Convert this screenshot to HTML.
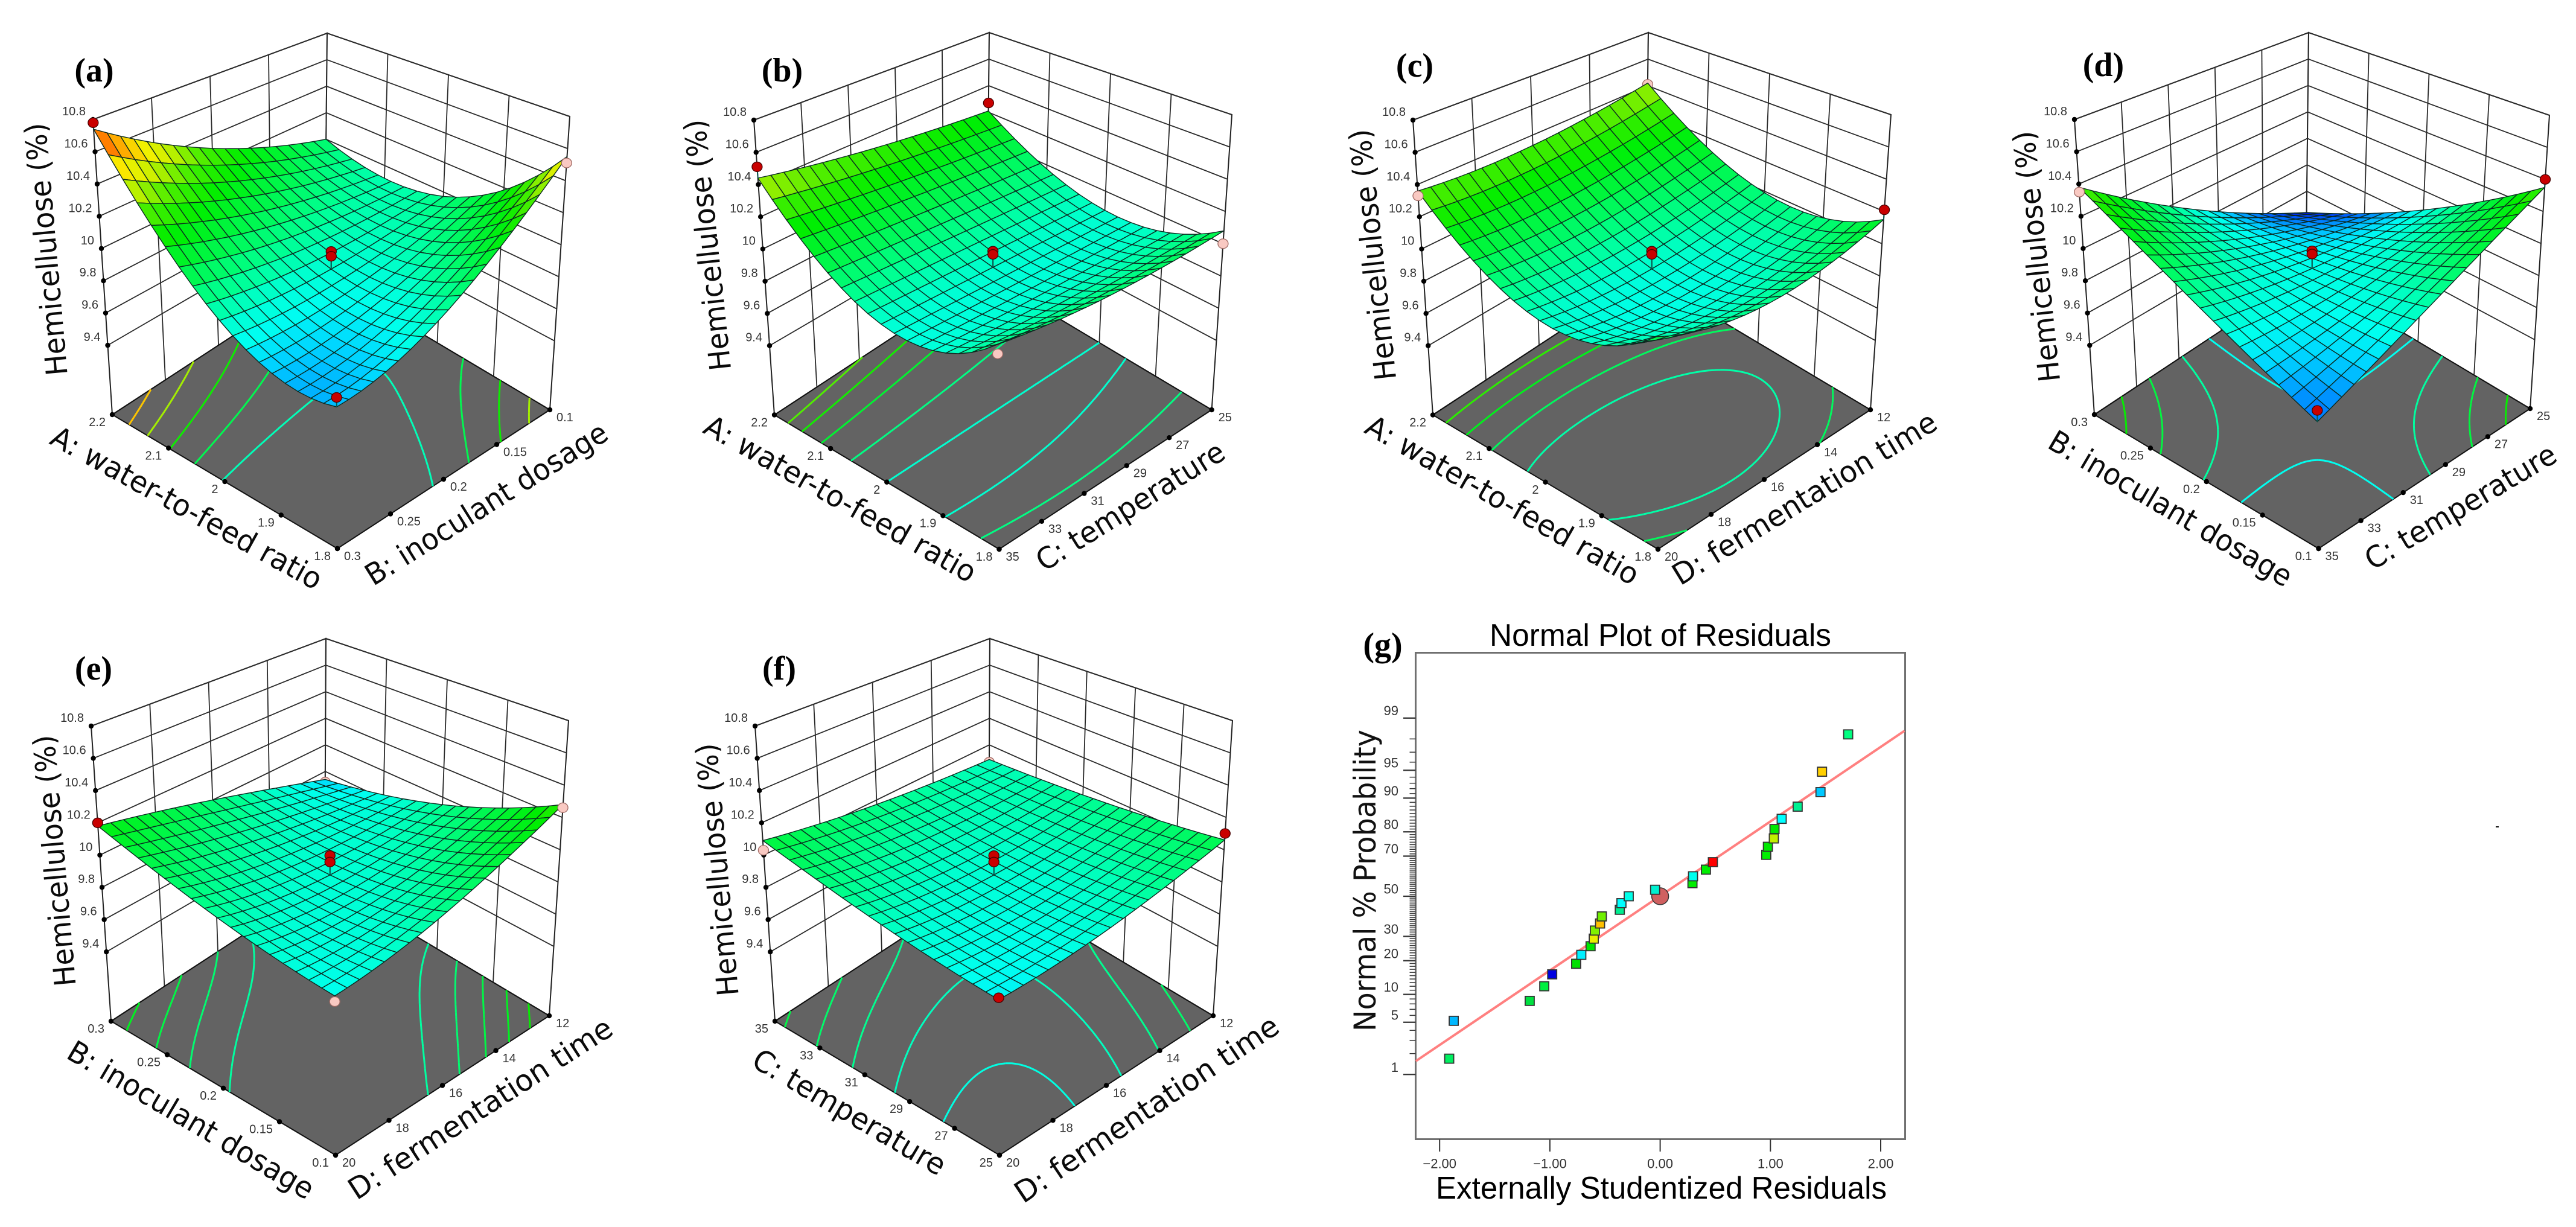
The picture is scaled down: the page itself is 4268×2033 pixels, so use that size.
<!DOCTYPE html>
<html lang="en">
<head>
<meta charset="utf-8">
<title>Hemicellulose response surfaces and normal plot of residuals</title>
<style>
html,body{margin:0;padding:0;background:#fff;}
#figure{position:absolute;left:0;top:0;display:block;}
.ax3d{font-family:"DejaVu Sans",sans-serif;font-size:49px;fill:#0a0a0a;text-anchor:middle;dominant-baseline:central;}
.tag{font-family:"Liberation Serif",serif;font-weight:bold;font-size:56px;fill:#000;text-anchor:middle;}
.g-title{font-family:"Liberation Sans",sans-serif;font-size:52px;fill:#000;}
.g-ytitle{font-family:"DejaVu Sans",sans-serif;font-size:50px;fill:#111;}
</style>
</head>
<body>
<svg id="figure" xmlns="http://www.w3.org/2000/svg" width="4268" height="2033" viewBox="0 0 4268 2033">
<rect width="4268" height="2033" fill="#fff"/>
<g id="panel-a"></g>
<g id="panel-b"></g>
<g id="panel-c"></g>
<g id="panel-d"></g>
<g id="panel-e"></g>
<g id="panel-f"></g>
<g id="panel-g"></g>

<text class="tag" x="156" y="135">(a)</text>
<text class="tag" x="1296" y="135">(b)</text>
<text class="tag" x="2344" y="127">(c)</text>
<text class="tag" x="3485" y="126">(d)</text>
<text class="tag" x="155" y="1126">(e)</text>
<text class="tag" x="1291" y="1126">(f)</text>
<text class="tag" x="2291" y="1087">(g)</text>

<text class="ax3d" transform="translate(77 413) rotate(-95)" textLength="420" lengthAdjust="spacingAndGlyphs">Hemicellulose (%)</text>
<text class="ax3d" transform="translate(309 842) rotate(28.9)" textLength="505" lengthAdjust="spacingAndGlyphs">A: water-to-feed ratio</text>
<text class="ax3d" transform="translate(806 835) rotate(-32)" textLength="463" lengthAdjust="spacingAndGlyphs">B: inoculant dosage</text>

<text class="ax3d" transform="translate(1173 406) rotate(-96)" textLength="418" lengthAdjust="spacingAndGlyphs">Hemicellulose (%)</text>
<text class="ax3d" transform="translate(1392 827) rotate(29.5)" textLength="509" lengthAdjust="spacingAndGlyphs">A: water-to-feed ratio</text>
<text class="ax3d" transform="translate(1873 839) rotate(-32)" textLength="358" lengthAdjust="spacingAndGlyphs">C: temperature</text>

<text class="ax3d" transform="translate(2275 422) rotate(-96)" textLength="418" lengthAdjust="spacingAndGlyphs">Hemicellulose (%)</text>
<text class="ax3d" transform="translate(2489 829) rotate(29.8)" textLength="513" lengthAdjust="spacingAndGlyphs">A: water-to-feed ratio</text>
<text class="ax3d" transform="translate(2990 826) rotate(-31.4)" textLength="503" lengthAdjust="spacingAndGlyphs">D: fermentation time</text>

<text class="ax3d" transform="translate(3375 425) rotate(-96)" textLength="418" lengthAdjust="spacingAndGlyphs">Hemicellulose (%)</text>
<text class="ax3d" transform="translate(3596 843) rotate(30.5)" textLength="459" lengthAdjust="spacingAndGlyphs">B: inoculant dosage</text>
<text class="ax3d" transform="translate(4077 840) rotate(-30.6)" textLength="359" lengthAdjust="spacingAndGlyphs">C: temperature</text>

<text class="ax3d" transform="translate(91 1426) rotate(-95)" textLength="418" lengthAdjust="spacingAndGlyphs">Hemicellulose (%)</text>
<text class="ax3d" transform="translate(316 1856) rotate(30.6)" textLength="465" lengthAdjust="spacingAndGlyphs">B: inoculant dosage</text>
<text class="ax3d" transform="translate(796 1837) rotate(-32.9)" textLength="510" lengthAdjust="spacingAndGlyphs">D: fermentation time</text>

<text class="ax3d" transform="translate(1189 1441) rotate(-95)" textLength="420" lengthAdjust="spacingAndGlyphs">Hemicellulose (%)</text>
<text class="ax3d" transform="translate(1407 1843) rotate(30.5)" textLength="362" lengthAdjust="spacingAndGlyphs">C: temperature</text>
<text class="ax3d" transform="translate(1900 1838) rotate(-33.8)" textLength="515" lengthAdjust="spacingAndGlyphs">D: fermentation time</text>

<text class="g-title" x="2468" y="1070" textLength="566" lengthAdjust="spacingAndGlyphs">Normal Plot of Residuals</text>
<text class="g-ytitle" transform="translate(2279 1709) rotate(-90)" textLength="500" lengthAdjust="spacingAndGlyphs">Normal % Probability</text>
<text class="g-title" x="2379" y="1986" textLength="747" lengthAdjust="spacingAndGlyphs">Externally Studentized Residuals</text>
<rect x="4135" y="1369" width="5" height="2" fill="#111"/>
</svg>

<script>
/* ---------- Response-surface values ----------
   Heights at low / mid / high of each factor: row = left-running factor, column = right-running factor. */
const surfaceA = [[9.72, 9.94, 10.55], [9.89, 9.86, 9.97], [10.74, 10.31, 10.00]];
const surfaceB = [[10.05, 10.02, 10.08], [9.87, 9.87, 9.87], [10.44, 10.31, 10.21]];
const surfaceC = [[10.09, 9.975, 10.15], [9.89, 9.86, 9.99], [10.36, 10.33, 10.42]];
const surfaceD = [[9.64, 9.95, 10.35], [9.96, 9.86, 9.87], [10.38, 9.89, 9.44]];
const surfaceE = [[9.81, 9.96, 10.28], [9.94, 9.86, 9.95], [10.18, 10.00, 9.74]];
const surfaceF = [[9.79, 9.87, 10.06], [9.90, 9.86, 9.96], [10.09, 9.97, 9.89]];

/* contour levels on each floor */
const contoursA = [9.90, 10.05, 10.22, 10.40, 10.57];
const contoursB = [9.87, 9.97, 10.11, 10.23, 10.33];
const contoursC = [9.92, 10.03, 10.15, 10.27];
const contoursD = [9.85, 9.97, 10.12, 10.25];
const contoursE = [9.93, 10.00, 10.07, 10.14, 10.21];
const contoursF = [9.835, 9.89, 9.95, 10.01, 10.07];

/* design points: [left-factor fraction, right-factor fraction, response] */
const designA = [[1, 0, 10.78], [0, 1, 10.51], [0, 0, 9.77], [0.5, 0.5, 9.97], [0.5, 0.5, 9.94]];
const designB = [[1, 0, 10.51], [1, 1, 10.27], [0, 1, 10.00], [0, 0, 10.00], [0.5, 0.5, 9.97], [0.5, 0.5, 9.95]];
const designC = [[1, 0, 10.33], [1, 1, 10.41], [0, 1, 10.21], [0.5, 0.5, 9.97], [0.5, 0.5, 9.95]];
const designD = [[1, 0, 10.35], [0, 1, 10.40], [0, 0, 9.70], [0.5, 0.5, 9.97], [0.5, 0.5, 9.95]];
const designE = [[1, 0, 10.20], [0, 1, 10.26], [1, 1, 9.72], [0, 0, 9.78], [0.5, 0.5, 9.98], [0.5, 0.5, 9.94]];
const designF = [[1, 0, 10.03], [0, 1, 10.10], [1, 1, 9.87], [0, 0, 9.80], [0.5, 0.5, 9.98], [0.5, 0.5, 9.94]];

/* tick labels */
const zTickValues = [10.8, 10.6, 10.4, 10.2, 10, 9.8, 9.6, 9.4];
const ticksWater = ['1.8', '1.9', '2', '2.1', '2.2'];
const ticksDosageUp = ['0.1', '0.15', '0.2', '0.25', '0.3'];
const ticksDosageDown = ['0.3', '0.25', '0.2', '0.15', '0.1'];
const ticksTempDown = ['35', '33', '31', '29', '27', '25'];
const ticksTempUp = ['25', '27', '29', '31', '33', '35'];
const ticksTimeDown = ['20', '18', '16', '14', '12'];

/* colour scale (response → colour) */
const scaleValues = [9.40, 9.55, 9.68, 9.75, 9.81, 9.87, 9.95, 10.05, 10.20, 10.33, 10.43, 10.52, 10.62, 10.75];
const scaleColors = ['#0000d0', '#0050ff', '#00a0ff', '#00d8ff', '#00fff0', '#00ffd0', '#00ff90', '#00f850', '#00ee00', '#50ee00', '#c8f000', '#f8f000', '#ff9a00', '#ff2800'];

/* ---------- Normal plot data ---------- */
const residuals = [-1.913, -1.872, -1.183, -1.051, -0.979, -0.762, -0.715, -0.631, -0.602, -0.592, -0.545, -0.529, -0.366, -0.351, -0.285, -0.046, 0.293, 0.298, 0.415, 0.478, 0.962, 0.977, 1.031, 1.037, 1.102, 1.247, 1.454, 1.468, 1.705];
const probabilities = [1.7, 5.2, 8.6, 12, 15.4, 18.9, 22.2, 25.7, 29, 32.7, 36.1, 39.6, 43, 46.4, 50, 53.4, 56.8, 60.3, 63.6, 67.2, 70.6, 74.1, 77.5, 81, 84.4, 87.9, 91.3, 94.8, 98.27];
const residualColors = ['#00f060', '#00b8ff', '#00e040', '#00f040', '#0000e0', '#00e000', '#00f0ff', '#00e800', '#e8f000', '#80f000', '#ffc000', '#70f000', '#00ee90', '#00ffff', '#00ffe8', '#00f0d0', '#00ee00', '#00ffee', '#00ee00', '#ff0000', '#00f000', '#00e800', '#c0f000', '#00e800', '#00ffff', '#00f090', '#00c8ff', '#ffd000', '#00ff80'];
const fitResiduals = [-2.216, 2.216];
const fitProbabilities = [1.57, 98.46];
const xTickValues = [-2, -1, 0, 1, 2];
const xTickLabels = ['\u22122.00', '\u22121.00', '0.00', '1.00', '2.00'];
const probTickValues = [1, 5, 10, 20, 30, 50, 70, 80, 90, 95, 99];
const meanResidual = 0;
const meanProbability = 50;

/* ---------- Layout (pixels) ---------- */
const Z_FLOOR = 8.97;
const Z_TOP = 10.8;
const MESH = 18;
const SVGNS = 'http://www.w3.org/2000/svg';

const panels = [
  {id: 'a', colorShift: 0, surface: surfaceA, levels: contoursA, design: designA, uTicks: ticksWater, vTicks: ticksDosageDown,
   F: [559, 909], L: [186, 687], R: [911, 679], LT: [154, 198], RT: [944, 193], BT: [542, 55]},
  {id: 'b', colorShift: 0, surface: surfaceB, levels: contoursB, design: designB, uTicks: ticksWater, vTicks: ticksTempDown,
   F: [1655.5, 910], L: [1283, 687.5], R: [2007.6, 679], LT: [1249, 199], RT: [2041, 190], BT: [1639, 54]},
  {id: 'c', colorShift: 0, surface: surfaceC, levels: contoursC, design: designC, uTicks: ticksWater, vTicks: ticksTimeDown,
   F: [2747, 910], L: [2374, 687.5], R: [3099, 679], LT: [2341, 199], RT: [3133, 190], BT: [2731, 54]},
  {id: 'd', colorShift: -0.04, surface: surfaceD, levels: contoursD, design: designD, uTicks: ticksDosageUp, vTicks: ticksTempDown,
   F: [3841.5, 909], L: [3470, 687], R: [4192, 677], LT: [3437, 198], RT: [4224, 191], BT: [3825, 54]},
  {id: 'e', colorShift: 0, surface: surfaceE, levels: contoursE, design: designE, uTicks: ticksDosageUp, vTicks: ticksTimeDown,
   F: [556, 1914], L: [184, 1692], R: [910, 1683], LT: [151, 1203], RT: [942, 1194], BT: [540, 1058]},
  {id: 'f', colorShift: 0, surface: surfaceF, levels: contoursF, design: designF, uTicks: ticksTempUp, vTicks: ticksTimeDown,
   F: [1656, 1914], L: [1284, 1692], R: [2010, 1683], LT: [1251, 1203], RT: [2042, 1194], BT: [1640, 1058]}
];

function node(tag, attrs, parent) {
  const n = document.createElementNS(SVGNS, tag);
  for (const k in attrs) n.setAttribute(k, attrs[k]);
  parent.appendChild(n);
  return n;
}
function hexToRgb(h) {
  return [parseInt(h.slice(1, 3), 16), parseInt(h.slice(3, 5), 16), parseInt(h.slice(5, 7), 16)];
}
function colorAt(z) {
  if (z <= scaleValues[0]) return scaleColors[0];
  for (let i = 1; i < scaleValues.length; i++) {
    if (z <= scaleValues[i]) {
      const f = (z - scaleValues[i - 1]) / (scaleValues[i] - scaleValues[i - 1]);
      const a = hexToRgb(scaleColors[i - 1]);
      const b = hexToRgb(scaleColors[i]);
      return 'rgb(' + Math.round(a[0] + (b[0] - a[0]) * f) + ',' + Math.round(a[1] + (b[1] - a[1]) * f) + ',' + Math.round(a[2] + (b[2] - a[2]) * f) + ')';
    }
  }
  return scaleColors[scaleColors.length - 1];
}
function basis(s) {
  return [2 * (s - 0.5) * (s - 1), -4 * s * (s - 1), 2 * s * (s - 0.5)];
}
function heightAt(h, u, v) {
  const bu = basis(u);
  const bv = basis(v);
  let z = 0;
  for (let i = 0; i < 3; i++) for (let j = 0; j < 3; j++) z += bu[i] * bv[j] * h[i][j];
  return z;
}
function projector(p) {
  const FT = [p.LT[0] + p.RT[0] - p.BT[0], p.LT[1] + p.RT[1] - p.BT[1]];
  return function (u, v, z) {
    const t = (z - Z_FLOOR) / (Z_TOP - Z_FLOOR);
    const out = [0, 0];
    for (let k = 0; k < 2; k++) {
      const floor = p.F[k] + u * (p.L[k] - p.F[k]) + v * (p.R[k] - p.F[k]);
      const top = FT[k] + u * (p.LT[k] - FT[k]) + v * (p.RT[k] - FT[k]);
      out[k] = floor + (top - floor) * t;
    }
    return out;
  };
}
function pts(list) {
  return list.map(function (q) { return q[0].toFixed(1) + ',' + q[1].toFixed(1); }).join(' ');
}
function contourPath(h, level, P) {
  const N = 70;
  let d = '';
  function cross(u1, v1, z1, u2, v2, z2, out) {
    if ((z1 < level) !== (z2 < level)) {
      const f = (level - z1) / (z2 - z1);
      out.push(P(u1 + (u2 - u1) * f, v1 + (v2 - v1) * f, Z_FLOOR));
    }
  }
  for (let i = 0; i < N; i++) {
    for (let j = 0; j < N; j++) {
      const u0 = i / N, u1 = (i + 1) / N, v0 = j / N, v1 = (j + 1) / N;
      const a = heightAt(h, u0, v0), b = heightAt(h, u1, v0), c = heightAt(h, u1, v1), e = heightAt(h, u0, v1);
      const hit = [];
      cross(u0, v0, a, u1, v0, b, hit);
      cross(u1, v0, b, u1, v1, c, hit);
      cross(u1, v1, c, u0, v1, e, hit);
      cross(u0, v1, e, u0, v0, a, hit);
      for (let k = 0; k + 1 < hit.length; k += 2) {
        d += 'M' + hit[k][0].toFixed(1) + ' ' + hit[k][1].toFixed(1) + 'L' + hit[k + 1][0].toFixed(1) + ' ' + hit[k + 1][1].toFixed(1);
      }
    }
  }
  return d;
}

function drawPanel(p) {
  const g = document.getElementById('panel-' + p.id);
  const P = projector(p);
  const lineStyle = {stroke: '#2a2a2a', 'stroke-width': 1.8, fill: 'none'};

  function seg(a, b, name) {
    const l = node('line', Object.assign({x1: a[0], y1: a[1], x2: b[0], y2: b[1]}, lineStyle), g);
    
    
    return l;
  }

  /* back walls */
  const leftWall = node('polygon', {points: pts([P(1, 0, Z_FLOOR), P(1, 1, Z_FLOOR), P(1, 1, Z_TOP), P(1, 0, Z_TOP)]), fill: '#fff', stroke: '#222', 'stroke-width': 2}, g);
  
  
  const rightWall = node('polygon', {points: pts([P(0, 1, Z_FLOOR), P(1, 1, Z_FLOOR), P(1, 1, Z_TOP), P(0, 1, Z_TOP)]), fill: '#fff', stroke: '#222', 'stroke-width': 2}, g);
  
  

  zTickValues.forEach(function (z) {
    seg(P(1, 0, z), P(1, 1, z), 'left-wall-gridline');
    seg(P(0, 1, z), P(1, 1, z), 'right-wall-gridline');
  });
  for (let i = 1; i < p.vTicks.length - 1; i++) {
    const v = i / (p.vTicks.length - 1);
    seg(P(1, v, Z_FLOOR), P(1, v, Z_TOP), 'left-wall-gridline');
  }
  for (let i = 1; i < p.uTicks.length - 1; i++) {
    const u = i / (p.uTicks.length - 1);
    seg(P(u, 1, Z_FLOOR), P(u, 1, Z_TOP), 'right-wall-gridline');
  }

  /* floor */
  const floor = node('polygon', {points: pts([P(0, 0, Z_FLOOR), P(1, 0, Z_FLOOR), P(1, 1, Z_FLOOR), P(0, 1, Z_FLOOR)]), fill: '#636363', stroke: '#111', 'stroke-width': 2}, g);
  
  

  /* contours */
  p.levels.forEach(function (level) {
    const c = node('path', {d: contourPath(p.surface, level, P), fill: 'none', stroke: colorAt(level + p.colorShift), 'stroke-width': 3}, g);
    
    
  });

  /* tick dots and labels */
  function label(q, text, anchor, dx, dy, name) {
    const t = node('text', {x: q[0] + dx, y: q[1] + dy, 'font-family': '"Liberation Sans",sans-serif', 'font-size': 20, fill: '#333', 'text-anchor': anchor, 'dominant-baseline': 'central'}, g);
    t.textContent = text;
    
    
  }
  function dot(q, name) {
    const c = node('circle', {cx: q[0], cy: q[1], r: 4.2, fill: '#000'}, g);
    
    
  }
  zTickValues.forEach(function (z) {
    const q = P(1, 0, z);
    dot(q, 'z-axis-tick');
    label(q, String(z), 'end', -12, -13, 'z-axis-tick-label');
  });
  p.uTicks.forEach(function (text, i) {
    const q = P(i / (p.uTicks.length - 1), 0, Z_FLOOR);
    dot(q, 'left-axis-tick');
    label(q, text, 'end', -11, 13, 'left-axis-tick-label');
  });
  p.vTicks.forEach(function (text, i) {
    const q = P(0, i / (p.vTicks.length - 1), Z_FLOOR);
    dot(q, 'right-axis-tick');
    label(q, text, 'start', 11, 13, 'right-axis-tick-label');
  });

  /* design points */
  function marker(pt) {
    const q = P(pt[0], pt[1], pt[2]);
    const above = pt[2] > heightAt(p.surface, pt[0], pt[1]);
    const e = node('ellipse', {cx: q[0], cy: q[1], rx: 8.5, ry: 8, fill: above ? '#c90000' : '#f9c9c2', stroke: above ? '#4a0000' : '#a06a64', 'stroke-width': 1.3}, g);
    
    
  }
  p.design.filter(function (d) { return d[0] === 1 && d[1] === 1; }).forEach(marker);

  /* surface mesh, far cells first */
  const cells = [];
  for (let i = MESH - 1; i >= 0; i--) {
    for (let j = MESH - 1; j >= 0; j--) cells.push([i, j]);
  }
  cells.sort(function (a, b) { return (b[0] + b[1]) - (a[0] + a[1]); });
  cells.forEach(function (cell) {
    const u0 = cell[0] / MESH, u1 = (cell[0] + 1) / MESH, v0 = cell[1] / MESH, v1 = (cell[1] + 1) / MESH;
    const z00 = heightAt(p.surface, u0, v0), z10 = heightAt(p.surface, u1, v0), z11 = heightAt(p.surface, u1, v1), z01 = heightAt(p.surface, u0, v1);
    const mean = (z00 + z10 + z11 + z01) / 4;
    const poly = node('polygon', {points: pts([P(u0, v0, z00), P(u1, v0, z10), P(u1, v1, z11), P(u0, v1, z01)]), fill: colorAt(mean + p.colorShift), stroke: '#0b2a20', 'stroke-width': 1.4, 'stroke-linejoin': 'round'}, g);
    
    
  });

  /* stems and remaining points */
  p.design.forEach(function (d) {
    if (d[0] === 1 && d[1] === 1) return;
    const s = heightAt(p.surface, d[0], d[1]);
    if (d[2] > s) {
      const a = P(d[0], d[1], s);
      const b = P(d[0], d[1], d[2]);
      const stem = node('line', {x1: a[0], y1: a[1], x2: b[0], y2: b[1], stroke: '#0b5a50', 'stroke-width': 2}, g);
      
      
    }
  });
  p.design.filter(function (d) { return !(d[0] === 1 && d[1] === 1); }).forEach(marker);
}

/* ---------- Normal plot ---------- */
function probit(p) {
  const q = p < 0.5 ? p : 1 - p;
  const t = Math.sqrt(-2 * Math.log(q));
  const z = t - (2.515517 + 0.802853 * t + 0.010328 * t * t) / (1 + 1.432788 * t + 0.189269 * t * t + 0.001308 * t * t * t);
  return p < 0.5 ? -z : z;
}
function xScale(r) { return 2750.6 + 182.7 * r; }
function yScale(pct) { return 1485 - 126.9 * probit(pct / 100); }

function drawNormalPlot() {
  const g = document.getElementById('panel-g');
  const frame = node('rect', {x: 2345.5, y: 1081.5, width: 811, height: 806, fill: '#fff', stroke: '#707070', 'stroke-width': 3}, g);
  
  

  for (let pct = 1; pct <= 99; pct++) {
    const major = probTickValues.indexOf(pct) >= 0;
    const y = yScale(pct);
    const t = node('line', {x1: major ? 2325 : 2335.5, y1: y, x2: 2345.5, y2: y, stroke: '#333', 'stroke-width': major ? 2.2 : 1.5}, g);
    
    
  }
  probTickValues.forEach(function (pct) {
    const t = node('text', {x: 2317, y: yScale(pct) - 12, 'font-family': '"Liberation Sans",sans-serif', 'font-size': 22, fill: '#333', 'text-anchor': 'end', 'dominant-baseline': 'central'}, g);
    t.textContent = String(pct);
    
    
  });
  xTickValues.forEach(function (v, i) {
    const x = xScale(v);
    const t = node('line', {x1: x, y1: 1887.5, x2: x, y2: 1908, stroke: '#333', 'stroke-width': 2}, g);
    
    
    const l = node('text', {x: x, y: 1928, 'font-family': '"Liberation Sans",sans-serif', 'font-size': 22, fill: '#333', 'text-anchor': 'middle', 'dominant-baseline': 'central'}, g);
    l.textContent = xTickLabels[i];
    
    
  });

  const fit = node('line', {x1: xScale(fitResiduals[0]), y1: yScale(fitProbabilities[0]), x2: xScale(fitResiduals[1]), y2: yScale(fitProbabilities[1]), stroke: '#ff8080', 'stroke-width': 4}, g);
  
  

  const mean = node('circle', {cx: xScale(meanResidual), cy: yScale(meanProbability), r: 14, fill: '#d06060', stroke: '#333', 'stroke-width': 1.5}, g);
  
  

  residuals.forEach(function (r, i) {
    const x = xScale(r);
    const y = yScale(probabilities[i]);
    const s = node('rect', {x: x - 7.5, y: y - 7.5, width: 15, height: 15, fill: residualColors[i], stroke: '#333', 'stroke-width': 1.8}, g);
    
    
  });
}

panels.forEach(drawPanel);
drawNormalPlot();
</script>
</body>
</html>
